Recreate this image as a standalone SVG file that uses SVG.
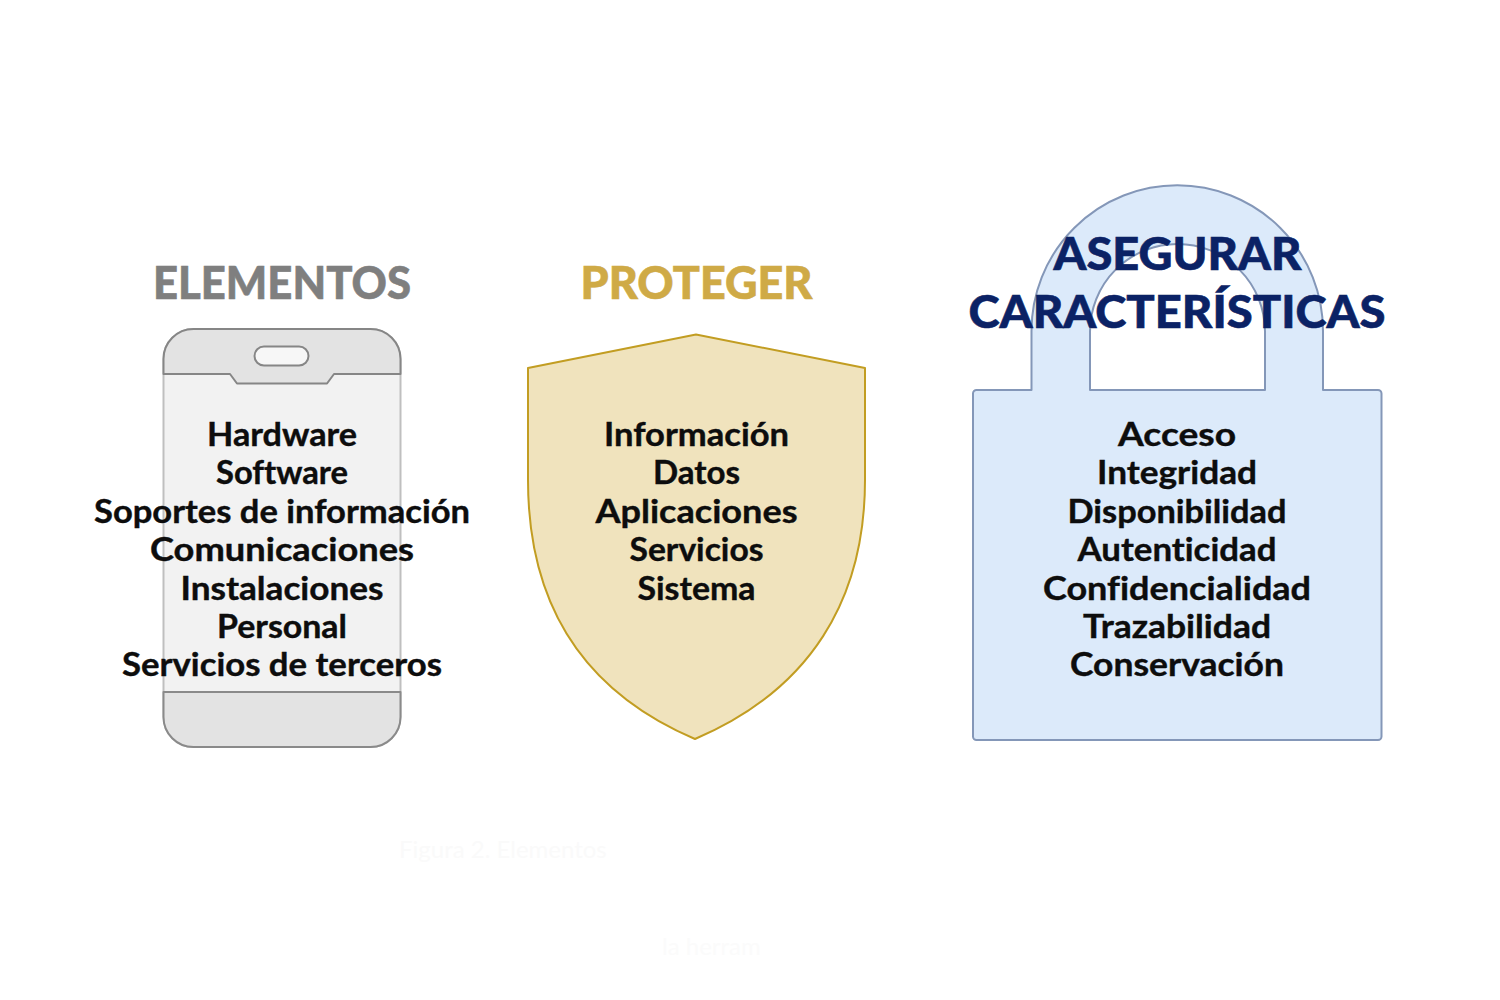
<svg xmlns="http://www.w3.org/2000/svg" width="1500" height="1000" viewBox="0 0 1500 1000">
<style>
text{font-family:"Lato","Liberation Sans",sans-serif;text-anchor:middle;font-weight:700;font-variant-ligatures:none}
.b{font-size:32px;fill:#0d0d0d;stroke:#0d0d0d;stroke-width:.4px}
.h{font-size:46px;font-weight:900;stroke-width:.6px}
.g{font-size:24px;font-weight:400;text-anchor:start;stroke:none}
</style>
<rect width="1500" height="1000" fill="#fff"/>
<g id="elementos">
<rect x="163.500" y="329" width="237" height="418" rx="30" fill="#f2f2f2" stroke="#bfbfbf" stroke-width="2"/>
<path d="M163.500 374V359a30 30 0 0 1 30-30H370.500a30 30 0 0 1 30 30V374H334L327 383.500H237L230 374Z" fill="#e3e3e3" stroke="#868686" stroke-width="2" stroke-linejoin="round"/>
<path d="M163.500 692H400.500V717a30 30 0 0 1-30 30H193.500a30 30 0 0 1-30-30Z" fill="#e3e3e3" stroke="#8a8a8a" stroke-width="2" stroke-linejoin="round"/>
<rect x="254.500" y="346.500" width="54" height="19" rx="9.500" fill="#f7f7f7" stroke="#868686" stroke-width="2"/>
<text class="h" x="282" y="299" fill="#7f7f7f" stroke="#7f7f7f" textLength="258" lengthAdjust="spacingAndGlyphs">ELEMENTOS</text>
<text class="b" x="282" y="446" textLength="150" lengthAdjust="spacingAndGlyphs">Hardware</text>
<text class="b" x="282" y="484" textLength="132" lengthAdjust="spacingAndGlyphs">Software</text>
<text class="b" x="282" y="523" textLength="376" lengthAdjust="spacingAndGlyphs">Soportes de información</text>
<text class="b" x="282" y="561" textLength="264" lengthAdjust="spacingAndGlyphs">Comunicaciones</text>
<text class="b" x="282" y="600" textLength="203" lengthAdjust="spacingAndGlyphs">Instalaciones</text>
<text class="b" x="282" y="638" textLength="130" lengthAdjust="spacingAndGlyphs">Personal</text>
<text class="b" x="282" y="676" textLength="320" lengthAdjust="spacingAndGlyphs">Servicios de terceros</text>
</g>
<g id="proteger">
<path d="M696 334.500L865 368V480C865 600 810 690 695 739C580 690 528 600 528 480V368Z" fill="#f0e3bd" stroke="#c29d22" stroke-width="2" stroke-linejoin="round"/>
<text class="h" x="696.500" y="299" fill="#cfaa46" stroke="#cfaa46" textLength="232" lengthAdjust="spacingAndGlyphs">PROTEGER</text>
<text class="b" x="696.500" y="446" textLength="185" lengthAdjust="spacingAndGlyphs">Información</text>
<text class="b" x="696.500" y="484" textLength="87" lengthAdjust="spacingAndGlyphs">Datos</text>
<text class="b" x="696.500" y="523" textLength="202" lengthAdjust="spacingAndGlyphs">Aplicaciones</text>
<text class="b" x="696.500" y="561" textLength="134" lengthAdjust="spacingAndGlyphs">Servicios</text>
<text class="b" x="696.500" y="600" textLength="118" lengthAdjust="spacingAndGlyphs">Sistema</text>
</g>
<g id="asegurar">
<path d="M1031.500 390V331A145.750 145.750 0 0 1 1323 331V390H1378a3.500 3.500 0 0 1 3.500 3.500V736.500a3.500 3.500 0 0 1-3.500 3.500H976.500a3.500 3.500 0 0 1-3.500-3.500V393.500a3.500 3.500 0 0 1 3.500-3.500ZM1090 390H1265V331.500A87.500 87.500 0 0 0 1090 331.500Z" fill="#dceafa" fill-rule="evenodd" stroke="#8497b8" stroke-width="2" stroke-linejoin="round"/>
<text class="h" x="1177.500" y="270" fill="#0b2265" stroke="#0b2265" textLength="248" lengthAdjust="spacingAndGlyphs">ASEGURAR</text>
<text class="h" x="1177" y="328" fill="#0b2265" stroke="#0b2265" textLength="417" lengthAdjust="spacingAndGlyphs">CARACTERÍSTICAS</text>
<text class="b" x="1177" y="446" textLength="118" lengthAdjust="spacingAndGlyphs">Acceso</text>
<text class="b" x="1177" y="484" textLength="160" lengthAdjust="spacingAndGlyphs">Integridad</text>
<text class="b" x="1177" y="523" textLength="219" lengthAdjust="spacingAndGlyphs">Disponibilidad</text>
<text class="b" x="1177" y="561" textLength="199" lengthAdjust="spacingAndGlyphs">Autenticidad</text>
<text class="b" x="1177" y="600" textLength="268" lengthAdjust="spacingAndGlyphs">Confidencialidad</text>
<text class="b" x="1177" y="638" textLength="188" lengthAdjust="spacingAndGlyphs">Trazabilidad</text>
<text class="b" x="1177" y="676" textLength="214" lengthAdjust="spacingAndGlyphs">Conservación</text>
</g>
<text class="g" x="399" y="858" fill="#fafafa">Figura 2. Elementos</text>
<text class="g" x="662" y="955" fill="#fbfbfb">la herram</text>
</svg>
